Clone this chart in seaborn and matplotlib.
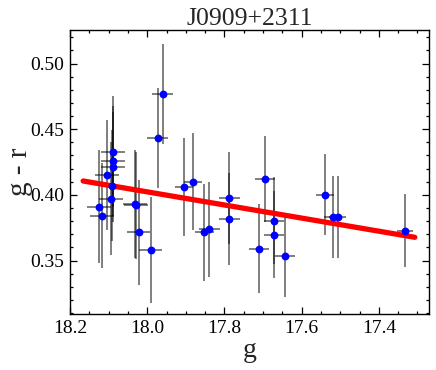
import numpy as np
import pandas as pd
import matplotlib
matplotlib.use("Agg")
import matplotlib.pyplot as plt
from matplotlib.ticker import MultipleLocator
import seaborn as sns

# photometry
g_mag = [18.125, 18.118, 18.105, 18.095, 18.088, 18.088, 18.088, 18.090,
         18.031, 18.030, 18.022, 17.991, 17.973, 17.960, 17.905, 17.881,
         17.852, 17.839, 17.788, 17.788, 17.711, 17.696, 17.671, 17.671,
         17.644, 17.540, 17.520, 17.507, 17.333]
g_r = [0.391, 0.384, 0.415, 0.397, 0.433, 0.426, 0.421, 0.407,
       0.393, 0.392, 0.3715, 0.358, 0.443, 0.4766, 0.406, 0.410,
       0.3714, 0.3737, 0.3975, 0.3816, 0.359, 0.412, 0.3803, 0.3698,
       0.3531, 0.4002, 0.3831, 0.3831, 0.3728]
g_err = [0.030, 0.031, 0.031, 0.031, 0.031, 0.031, 0.031, 0.031,
         0.031, 0.031, 0.030, 0.030, 0.028, 0.028, 0.024, 0.024,
         0.025, 0.027, 0.027, 0.027, 0.026, 0.026, 0.026, 0.026,
         0.026, 0.023, 0.022, 0.022, 0.021]
gr_err = [0.043, 0.040, 0.042, 0.043, 0.042, 0.042, 0.042, 0.042,
          0.041, 0.041, 0.040, 0.040, 0.038, 0.038, 0.037, 0.037,
          0.037, 0.036, 0.035, 0.035, 0.034, 0.033, 0.033, 0.033,
          0.031, 0.031, 0.031, 0.031, 0.028]

# linear fit g-r = fit_b + fit_a * (g - 17.7)
fit_a = 0.0499
fit_b = 0.3873
fit_range = [18.166, 17.307]

title = "J0909+2311"

df = pd.DataFrame({"g": g_mag, "gr": g_r})
fit_g = np.linspace(fit_range[0], fit_range[1], 2)
fit_df = pd.DataFrame({"g": fit_g, "gr": fit_b + fit_a * (fit_g - 17.7)})

sns.set_style("ticks")
plt.rcParams["font.family"] = ["Liberation Serif", "DejaVu Serif"]

fig = plt.figure(figsize=(4.36, 3.70), dpi=100)
ax = fig.add_axes([0.1606, 0.1514, 0.8244, 0.7675])

ax.errorbar(g_mag, g_r, xerr=g_err, yerr=gr_err, fmt="none",
            ecolor="black", alpha=0.5, elinewidth=1.4, capsize=0, zorder=1)
sns.lineplot(data=fit_df, x="g", y="gr", color="red", linewidth=3.8,
             ax=ax, zorder=2)
sns.scatterplot(data=df, x="g", y="gr", color="blue", s=32, linewidth=0,
                ax=ax, zorder=3)

ax.set_xlim(18.2, 17.269)
ax.set_ylim(0.3093, 0.5255)
ax.xaxis.set_major_locator(MultipleLocator(0.2))
ax.xaxis.set_minor_locator(MultipleLocator(0.05))
ax.yaxis.set_major_locator(MultipleLocator(0.05))
ax.yaxis.set_minor_locator(MultipleLocator(0.01))
ax.xaxis.set_major_formatter(plt.FormatStrFormatter("%.1f"))
ax.yaxis.set_major_formatter(plt.FormatStrFormatter("%.2f"))

ax.tick_params(which="both", direction="in", top=True, right=True,
               labelsize=14, colors="black", width=0.9)
ax.tick_params(which="major", length=5, pad=4)
ax.tick_params(which="minor", length=2.5)
for sp in ax.spines.values():
    sp.set_visible(True)
    sp.set_linewidth(1.0)
    sp.set_color("black")

ax.set_xlabel("g", fontsize=20, labelpad=1)
ax.set_ylabel("g - r", fontsize=21, labelpad=-2)
ax.set_title(title, fontsize=18.5, pad=2)

fig.savefig("out.png", dpi=100)
